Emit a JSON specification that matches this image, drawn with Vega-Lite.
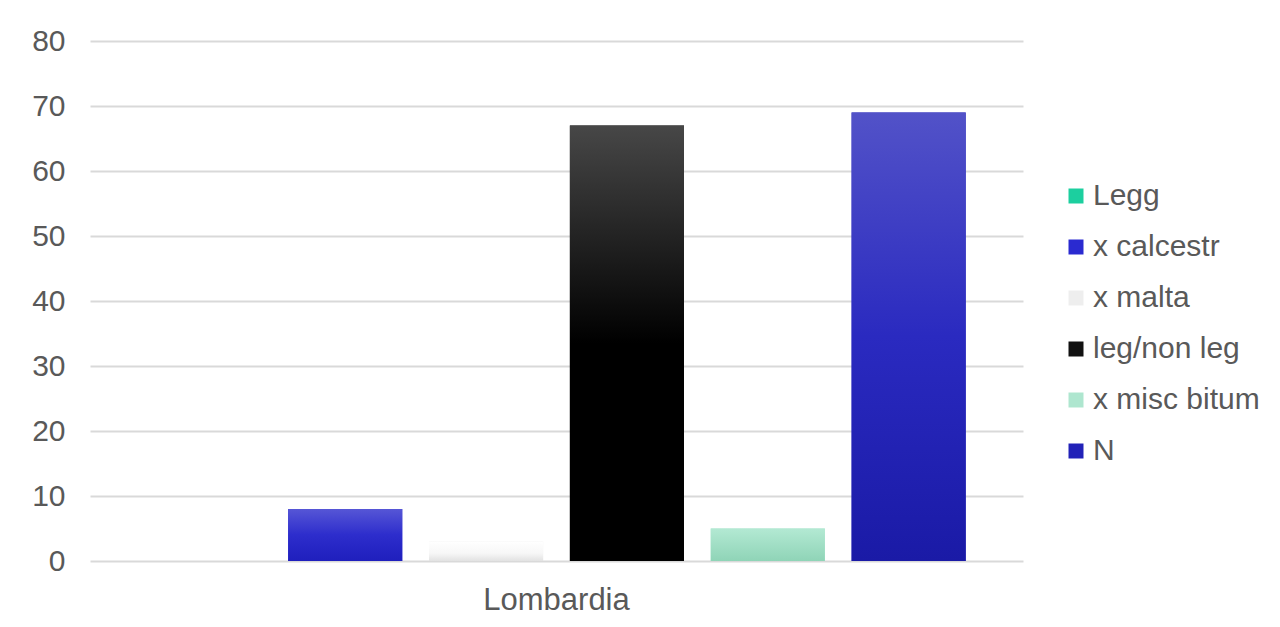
{
  "$schema": "https://vega.github.io/schema/vega-lite/v6.json",
  "width": 933,
  "height": 520,
  "autosize": {"type": "none"},
  "padding": {"left": 90, "top": 41, "right": 257, "bottom": 66},
  "background": "white",
  "data": {
    "values": [
      {"region": "Lombardia", "series": "Legg", "value": 0},
      {"region": "Lombardia", "series": "x calcestr", "value": 8},
      {"region": "Lombardia", "series": "x malta", "value": 3},
      {"region": "Lombardia", "series": "leg/non leg", "value": 67},
      {"region": "Lombardia", "series": "x misc bitum", "value": 5},
      {"region": "Lombardia", "series": "N", "value": 69}
    ]
  },
  "encoding": {
    "x": {
      "field": "region",
      "type": "nominal",
      "title": null,
      "scale": {"paddingInner": 0, "paddingOuter": 0.07},
      "axis": {
        "labelAngle": 0,
        "labelFont": "Liberation Sans",
        "labelFontSize": 31,
        "labelColor": "#595959",
        "labelPadding": 24,
        "ticks": false,
        "domain": false
      }
    },
    "xOffset": {
      "field": "series",
      "type": "nominal",
      "sort": ["Legg", "x calcestr", "x malta", "leg/non leg", "x misc bitum", "N"],
      "scale": {"paddingInner": 0.19, "paddingOuter": 0}
    },
    "y": {
      "field": "value",
      "type": "quantitative",
      "title": null,
      "scale": {"domain": [0, 80], "nice": false},
      "axis": {
        "values": [0, 10, 20, 30, 40, 50, 60, 70, 80],
        "labelFont": "Liberation Sans",
        "labelFontSize": 30,
        "labelColor": "#595959",
        "labelPadding": 25,
        "ticks": false,
        "domain": false,
        "gridColor": "#d9d9d9",
        "gridWidth": 2
      }
    }
  },
  "layer": [
    {
      "mark": {"type": "bar"},
      "encoding": {
        "color": {
          "field": "series",
          "type": "nominal",
          "title": null,
          "scale": {
            "domain": ["Legg", "x calcestr", "x malta", "leg/non leg", "x misc bitum", "N"],
            "range": ["#1ccf9f", "#2a2ad0", "#eeeeee", "#111111", "#aee6cf", "#2222b8"]
          },
          "legend": {
            "orient": "none",
            "legendX": 971,
            "legendY": 140,
            "symbolType": "square",
            "symbolSize": 225,
            "symbolStrokeWidth": 0,
            "labelFont": "Liberation Sans",
            "labelFontSize": 30,
            "labelColor": "#595959",
            "labelOffset": 2,
            "rowPadding": 21,
            "labelLimit": 300
          }
        }
      }
    },
    {
      "mark": {"type": "bar"},
      "encoding": {
        "fill": {
          "condition": [
            {"test": "datum.series === 'x calcestr'", "value": {"gradient": "linear", "x1": 0, "y1": 0, "x2": 0, "y2": 1, "stops": [{"offset": 0, "color": "#5656d6"}, {"offset": 0.5, "color": "#2d2dcc"}, {"offset": 1, "color": "#1f1fbd"}]}},
            {"test": "datum.series === 'x malta'", "value": {"gradient": "linear", "x1": 0, "y1": 0, "x2": 0, "y2": 1, "stops": [{"offset": 0, "color": "#ffffff"}, {"offset": 0.6, "color": "#f7f7f7"}, {"offset": 1, "color": "#e2e2e2"}]}},
            {"test": "datum.series === 'leg/non leg'", "value": {"gradient": "linear", "x1": 0, "y1": 0, "x2": 0, "y2": 1, "stops": [{"offset": 0, "color": "#474747"}, {"offset": 0.5, "color": "#000000"}, {"offset": 1, "color": "#000000"}]}},
            {"test": "datum.series === 'x misc bitum'", "value": {"gradient": "linear", "x1": 0, "y1": 0, "x2": 0, "y2": 1, "stops": [{"offset": 0, "color": "#b3e9d3"}, {"offset": 1, "color": "#8fd4b7"}]}},
            {"test": "datum.series === 'N'", "value": {"gradient": "linear", "x1": 0, "y1": 0, "x2": 0, "y2": 1, "stops": [{"offset": 0, "color": "#5252c8"}, {"offset": 0.5, "color": "#2a2ac0"}, {"offset": 1, "color": "#1a1aa6"}]}}
          ],
          "value": "#1ccf9f"
        }
      }
    }
  ],
  "config": {
    "view": {"stroke": null},
    "font": "Liberation Sans"
  }
}
